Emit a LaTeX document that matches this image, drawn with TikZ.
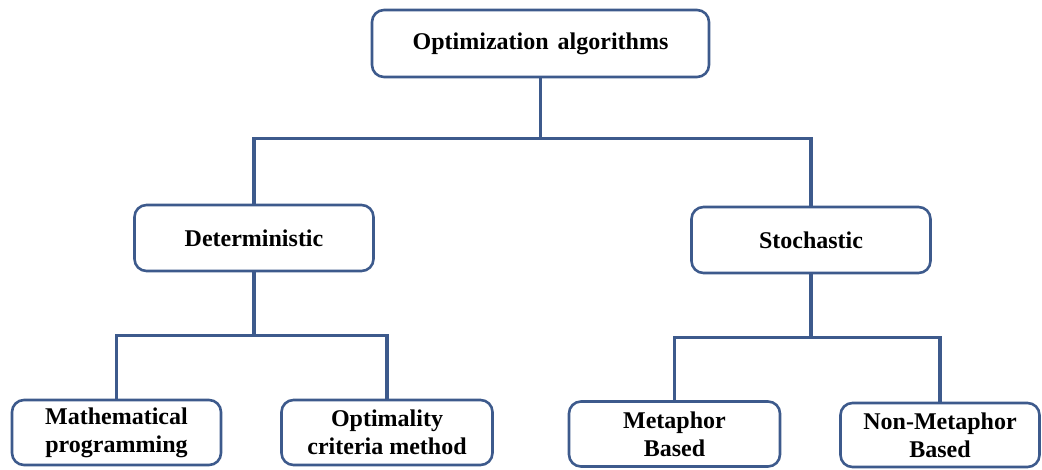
\documentclass[tikz,border=0pt]{standalone}
\usepackage{fontspec}
\setmainfont{Liberation Serif}
\definecolor{lineblue}{HTML}{3D5A8C}
\begin{document}
\begin{tikzpicture}[x=1pt,y=-1pt,
  box/.style={draw=lineblue, line width=2.6pt, rounded corners=12pt, fill=white,
    inner sep=0pt, align=center, font=\fontsize{24}{28}\selectfont\bfseries},
  conn/.style={draw=lineblue, line width=3.2pt}]
\useasboundingbox (0,0) rectangle (1042,469);
% boxes
\node[box, minimum width=337pt, minimum height=67pt] (top) at (540.5,43.5) {Optimization\hspace{3pt} algorithms};
\node[box, minimum width=239pt, minimum height=66pt] (det) at (254,238) {Deterministic};
\node[box, minimum width=239pt, minimum height=66pt] (sto) at (811,240) {Stochastic};
\node[box, minimum width=209pt, minimum height=65pt] (math) at (116.5,432.5) {Mathematical\\programming};
\node[box, minimum width=211pt, minimum height=65pt] (opt) at (387,432.5) {Optimality\\criteria method};
\node[box, minimum width=211pt, minimum height=65pt] (meta) at (674.5,434) {Metaphor\\Based};
\node[box, minimum width=199pt, minimum height=64pt] (nonmeta) at (940,435) {Non-Metaphor\\Based};
% junctions
\coordinate (j1) at ([yshift=-60pt]top.south);
\coordinate (j2) at ([yshift=-63pt]det.south);
\coordinate (j3) at ([yshift=-63pt]sto.south);
% connectors
\draw[conn] (top.south) -- (j1);
\draw[conn] (j1) -| (det.north);
\draw[conn] (j1) -| (sto.north);
\draw[conn] (det.south) -- (j2);
\draw[conn] (j2) -| (math.north);
\draw[conn] (j2) -| (opt.north);
\draw[conn] (sto.south) -- (j3);
\draw[conn] (j3) -| (meta.north);
\draw[conn] (j3) -| (nonmeta.north);
\end{tikzpicture}
\end{document}
